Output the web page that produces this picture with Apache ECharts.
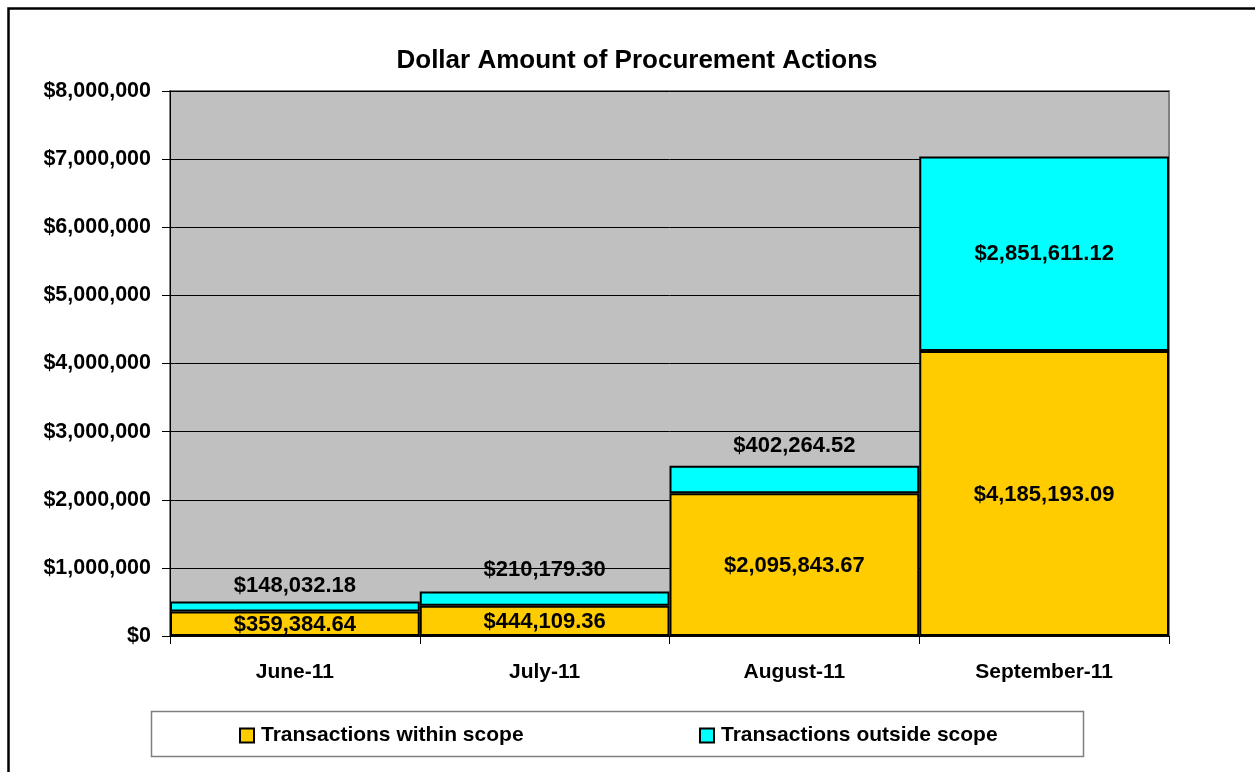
<!DOCTYPE html>
<html>
<head>
<meta charset="utf-8">
<script src="https://cdn.jsdelivr.net/npm/echarts@6/dist/echarts.min.js"></script>
<style>
html,body{margin:0;padding:0;background:#fff;}
#chart{width:1255px;height:772px;}
</style>
</head>
<body>
<div id="chart"></div>
<script>
const categories = ['June-11', 'July-11', 'August-11', 'September-11'];
const withinScope = [359384.64, 444109.36, 2095843.67, 4185193.09];
const outsideScope = [148032.18, 210179.30, 402264.52, 2851611.12];
const seriesNames = ['Transactions within scope', 'Transactions outside scope'];
const titleText = 'Dollar Amount of Procurement Actions';

const FONT = '"Liberation Sans", Arial, sans-serif';
const fmtMoney = v => '$' + v.toLocaleString('en-US', {minimumFractionDigits: 2, maximumFractionDigits: 2});
const fmtAxis = v => '$' + v.toLocaleString('en-US');

// label placement for the outside-scope series (style only)
const outsidePos = ['top', 'top', 'top', 'inside'];
const outsideDist = [4, 10, 9, 0];

const chart = echarts.init(document.getElementById('chart'), null, {renderer: 'canvas'});
const labelBase = {show: true, color: '#000', fontFamily: FONT, fontWeight: 'bold', fontSize: 22};

chart.setOption({
  animation: false,
  backgroundColor: '#fff',
  title: {
    text: titleText,
    left: 632, top: 43, textAlign: 'center',
    textStyle: {fontFamily: FONT, fontWeight: 'bold', fontSize: 26, color: '#000'}
  },
  grid: {
    left: 170, right: 86, top: 91, bottom: 136,
    show: true, backgroundColor: '#C0C0C0', borderColor: '#808080', borderWidth: 2
  },
  xAxis: {
    type: 'category',
    data: categories,
    axisLine: {lineStyle: {color: '#000', width: 1}},
    axisTick: {show: true, length: 8, lineStyle: {color: '#000'}},
    axisLabel: {color: '#000', fontFamily: FONT, fontWeight: 'bold', fontSize: 21, margin: 26}
  },
  yAxis: {
    type: 'value',
    min: 0, max: 8000000, interval: 1000000,
    axisLine: {show: true, lineStyle: {color: '#000', width: 1}},
    axisTick: {show: true, length: 8, lineStyle: {color: '#000'}},
    axisLabel: {color: '#000', fontFamily: FONT, fontWeight: 'bold', fontSize: 21.5, margin: 19, formatter: fmtAxis},
    splitLine: {show: true, lineStyle: {color: '#000', width: 1}}
  },
  legend: [
    {
      data: [seriesNames[0]], left: 239, top: 725, padding: 0,
      icon: 'rect', itemWidth: 14, itemHeight: 14, itemGap: 0,
      itemStyle: {borderColor: '#000', borderWidth: 2},
      textStyle: {color: '#000', fontFamily: FONT, fontWeight: 'bold', fontSize: 21, padding: [0, 0, 0, 2]}
    },
    {
      data: [seriesNames[1]], left: 699, top: 725, padding: 0,
      icon: 'rect', itemWidth: 14, itemHeight: 14, itemGap: 0,
      itemStyle: {borderColor: '#000', borderWidth: 2},
      textStyle: {color: '#000', fontFamily: FONT, fontWeight: 'bold', fontSize: 21, padding: [0, 0, 0, 2]}
    }
  ],
  graphic: [
    {type: 'rect', silent: true, z: 100, shape: {x: 8.5, y: 8.5, width: 1300, height: 800},
     style: {fill: 'none', stroke: '#000', lineWidth: 2.5}},
    {type: 'rect', silent: true, z: -1, shape: {x: 151.5, y: 711.5, width: 932, height: 45},
     style: {fill: '#fff', stroke: '#808080', lineWidth: 1.5}}
  ],
  series: [
    {
      name: seriesNames[0], type: 'bar', stack: 'total',
      barCategoryGap: '0%', barWidth: '100%',
      itemStyle: {color: '#FFCC00', borderColor: '#000', borderWidth: 2},
      label: Object.assign({}, labelBase, {position: 'inside', offset: [0, 1], formatter: p => fmtMoney(p.value)}),
      data: withinScope
    },
    {
      name: seriesNames[1], type: 'bar', stack: 'total',
      barCategoryGap: '0%', barWidth: '100%',
      itemStyle: {color: '#00FFFF', borderColor: '#000', borderWidth: 2},
      label: Object.assign({}, labelBase, {formatter: p => fmtMoney(p.value)}),
      data: outsideScope.map((v, i) => ({
        value: v,
        label: {position: outsidePos[i], distance: outsideDist[i]}
      }))
    }
  ]
});
</script>
</body>
</html>
